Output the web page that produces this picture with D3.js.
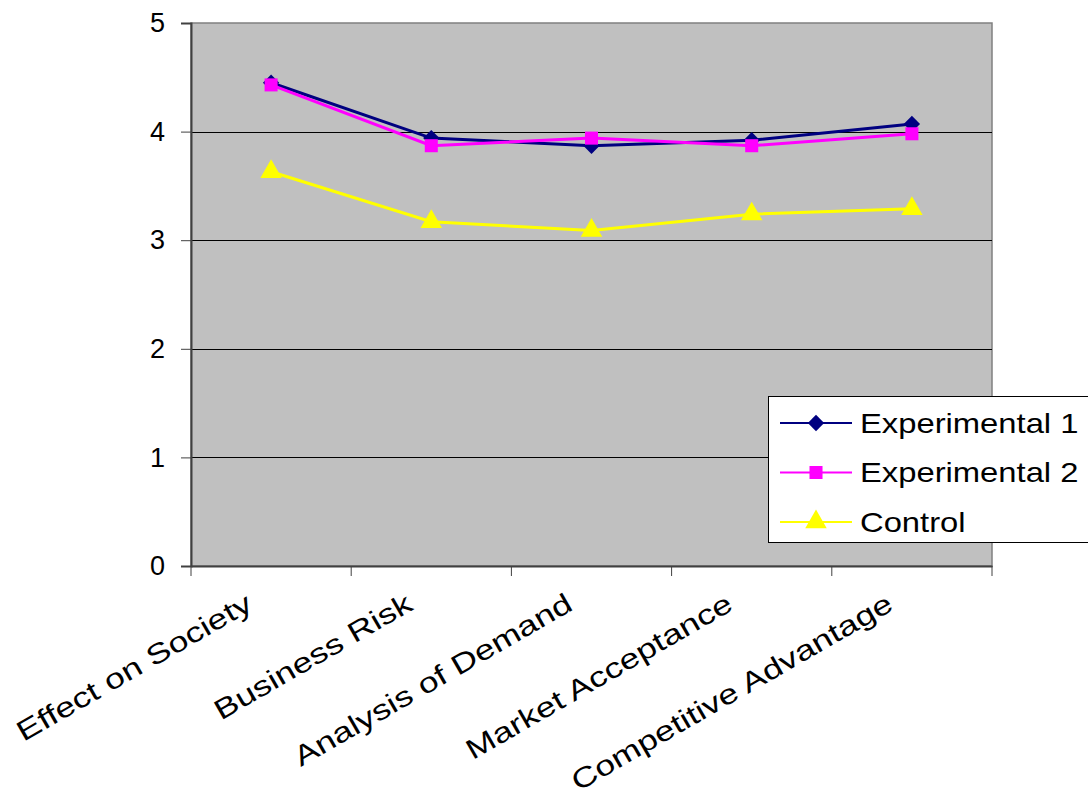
<!DOCTYPE html>
<html><head><meta charset="utf-8">
<script src="https://cdn.jsdelivr.net/npm/d3@7"></script>
<style>body{margin:0;background:#fff}svg text{font-family:"Liberation Sans",Arial,sans-serif}</style>
</head><body><svg id="c" width="1088" height="796"></svg>
<script>
const categories = ["Effect on Society","Business Risk","Analysis of Demand","Market Acceptance","Competitive Advantage"];
const experimental1 = [4.45, 3.94, 3.87, 3.92, 4.07];
const experimental2 = [4.43, 3.87, 3.94, 3.87, 3.98];
const control = [3.63, 3.17, 3.09, 3.24, 3.29];
const seriesNames = ["Experimental 1","Experimental 2","Control"];
const yTicks = [0,1,2,3,4,5];

const svg = d3.select("#c");
const L=191, R=992, T=23, B=566;
const x = d3.scaleBand().domain(categories).range([L,R]);
const y = d3.scaleLinear().domain([0,5]).range([B,T]);

svg.append("rect").attr("x",L).attr("y",T).attr("width",R-L).attr("height",B-T)
  .attr("fill","#c0c0c0").attr("stroke","#808080").attr("stroke-width",1.5);

// gridlines
svg.append("g").selectAll("line").data(yTicks.filter(d=>d>0&&d<5)).join("line")
  .attr("x1",L).attr("x2",R).attr("y1",d=>Math.round(y(d))+0.5).attr("y2",d=>Math.round(y(d))+0.5)
  .attr("stroke","#000").attr("stroke-width",1);

// y axis
const ya = svg.append("g").attr("transform",`translate(${L},0)`)
  .call(d3.axisLeft(y).tickValues(yTicks).tickSize(10).tickPadding(16).tickFormat(d3.format("d")));
ya.select(".domain").attr("stroke","#404040").attr("stroke-width",2);
ya.selectAll(".tick line").attr("stroke","#404040");
ya.selectAll("text").attr("font-size",27).attr("fill","#000");

// x axis
const xa = svg.append("g").attr("transform",`translate(0,${B})`)
  .call(d3.axisBottom(x).tickSize(0).tickFormat(""));
xa.select(".domain").attr("stroke","#404040").attr("stroke-width",2);
const bounds = categories.map(c=>x(c)).concat([R]);
xa.append("g").selectAll("line").data(bounds).join("line")
  .attr("x1",d=>d).attr("x2",d=>d).attr("y1",0).attr("y2",10).attr("stroke","#404040");

svg.append("g").selectAll("text").data(categories).join("text")
  .attr("transform",d=>`translate(${x(d)+x.bandwidth()/2-17},${B+43}) rotate(-30) scale(1.27,1)`)
  .attr("text-anchor","end").attr("font-size",28).attr("fill","#000").text(d=>d);

const series = [
  {name:seriesNames[0], values:experimental1, color:"#000080", sym:d3.symbolDiamond2, size:170},
  {name:seriesNames[1], values:experimental2, color:"#ff00ff", sym:d3.symbolSquare, size:170},
  {name:seriesNames[2], values:control, color:"#ffff00", sym:d3.symbolTriangle, size:200}
];
const cx = c => x(c)+x.bandwidth()/2;
const line = d3.line().x((d,i)=>cx(categories[i])).y(d=>y(d));
series.forEach(s=>{
  svg.append("path").datum(s.values).attr("d",line).attr("fill","none")
    .attr("stroke",s.color).attr("stroke-width",3);
  svg.append("g").selectAll("path").data(s.values).join("path")
    .attr("transform",(d,i)=>`translate(${cx(categories[i])},${y(d)})`)
    .attr("d",d3.symbol().type(s.sym).size(s.size)).attr("fill",s.color);
});

// legend
const lg = svg.append("g");
lg.append("rect").attr("x",768.5).attr("y",396.5).attr("width",330).attr("height",146)
  .attr("fill","#fff").attr("stroke","#000").attr("stroke-width",1);
series.forEach((s,i)=>{
  const yy = 423 + i*49.5;
  lg.append("line").attr("x1",780).attr("x2",852).attr("y1",yy).attr("y2",yy).attr("stroke",s.color).attr("stroke-width",2);
  lg.append("path").attr("transform",`translate(816,${yy})`).attr("d",d3.symbol().type(s.sym).size(s.size)).attr("fill",s.color);
  lg.append("text").attr("x",860).attr("y",yy+10).attr("font-size",28).attr("fill","#000")
    .attr("transform",`translate(860,0) scale(1.17,1) translate(-860,0)`).text(s.name);
});
</script></body></html>
